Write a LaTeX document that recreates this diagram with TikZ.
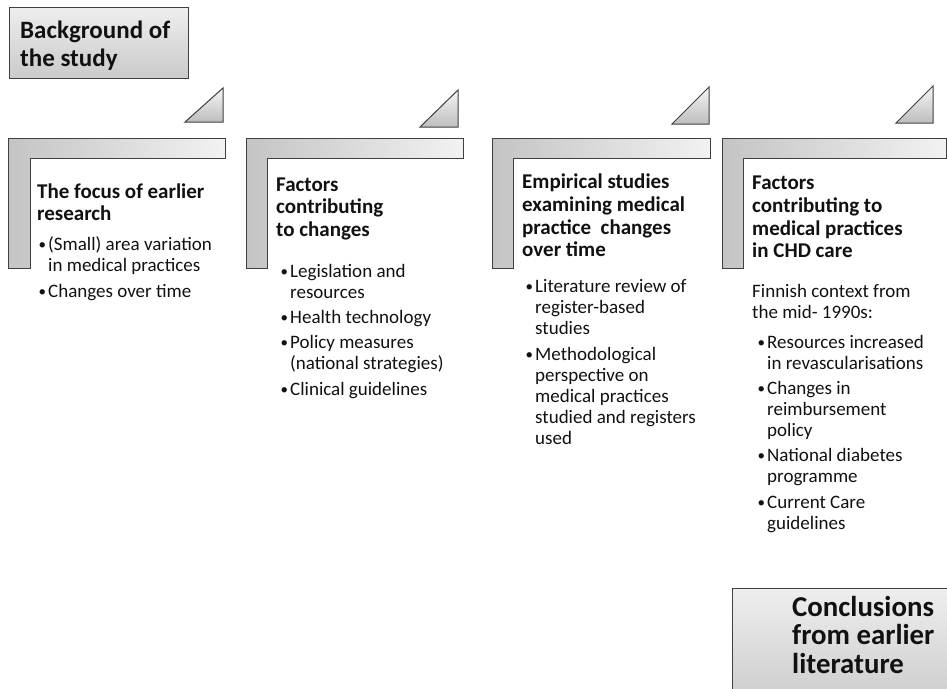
\documentclass[tikz,border=0pt]{standalone}
\usepackage{fontspec}
\setmainfont{Carlito}
\definecolor{edge}{HTML}{404040}
\definecolor{Ldark}{HTML}{C4C4C4}
\definecolor{Llight}{HTML}{F2F2F2}
\definecolor{boxtop}{HTML}{EEEEEE}
\definecolor{boxbot}{HTML}{CACACA}
\definecolor{tritop}{HTML}{F6F6F6}
\definecolor{tribot}{HTML}{BDBDBD}
\definecolor{ink}{HTML}{111111}
\newcommand\bul{\makebox[10pt][l]{\hspace{0.5pt}\raisebox{1pt}{\fontsize{15}{15}\selectfont\textbullet}}}
\newcommand\ind{\hspace*{10pt}}
\begin{document}
\begin{tikzpicture}[x=1pt, y=-1pt,
  lbar/.style={draw=edge, line width=1pt, left color=Ldark, right color=Llight},
  tri/.style={draw=edge, line width=1pt, top color=tritop, bottom color=tribot},
  gbox/.style={draw=edge, line width=1pt, top color=boxtop, bottom color=boxbot},
  title/.style={anchor=north west, inner sep=0pt, align=left, text=ink,
    font=\bfseries\fontsize{21}{22.7}\selectfont},
  body/.style={anchor=north west, inner sep=0pt, align=left, text=ink,
    font=\fontsize{19}{21}\selectfont},
  big/.style={anchor=north west, inner sep=0pt, align=left, text=ink,
    font=\bfseries\fontsize{25}{27.7}\selectfont},
  bigger/.style={anchor=north west, inner sep=0pt, align=left, text=ink,
    font=\bfseries\fontsize{28.8}{28.7}\selectfont}]
\useasboundingbox (0,0) rectangle (947,688);
\clip (0,0) rectangle (947,688);

% top box
\shade[gbox] (9.5,7.5) rectangle (188,78.5);
\node[big] (bg) at (20,38.3-20) {\rule{0pt}{20pt}Background of\\the study};

% triangles
\shade[tri] (185,122) -- (223,88) -- (223,122) -- cycle;
\shade[tri] (420,127) -- (458,90) -- (458,127) -- cycle;
\shade[tri] (672,124) -- (709,87) -- (709,124) -- cycle;
\shade[tri] (896,123) -- (933,86) -- (933,123) -- cycle;

% L shapes
\shade[lbar] (8,138.5) -- (225,138.5) -- (225,158.5) -- (30,158.5) -- (30,268) -- (8,268) -- cycle;
\shade[lbar] (246,138.5) -- (463,138.5) -- (463,158.5) -- (267,158.5) -- (267,268) -- (246,268) -- cycle;
\shade[lbar] (492,138.5) -- (710,138.5) -- (710,158.5) -- (513,158.5) -- (513,268) -- (492,268) -- cycle;
\shade[lbar] (722,138.5) -- (946,138.5) -- (946,158.5) -- (743,158.5) -- (743,268) -- (722,268) -- cycle;

% column 1
\node[title] (t1) at (37,198-17) {\rule{0pt}{17pt}The focus of earlier\\research};
\node[body] (b1) at (38,250.5-16) {\rule{0pt}{16pt}\bul(Small) area variation\\
  \ind in medical practices\\[5pt]
  \bul Changes over time};

% column 2
\node[title] (t2) at (276,191-17) {\rule{0pt}{17pt}Factors\\contributing\\to changes};
\node[body] (b2) at (280,277.5-16) {\rule{0pt}{16pt}\bul Legislation and\\
  \ind resources\\[3.5pt]
  \bul Health technology\\[4.5pt]
  \bul Policy measures\\
  \ind (national strategies)\\[4.5pt]
  \bul Clinical guidelines};

% column 3
\node[title] (t3) at (522,188.5-17) {\rule{0pt}{17pt}Empirical studies\\examining medical\\practice\ \ changes\\over time};
\node[body] (b3) at (525,292.5-16) {\rule{0pt}{16pt}\bul Literature review of\\
  \ind register-based\\
  \ind studies\\[5pt]
  \bul Methodological\\
  \ind perspective on\\
  \ind medical practices\\
  \ind studied and registers\\
  \ind used};

% column 4
\node[title] (t4) at (752,189.5-17) {\rule{0pt}{17pt}Factors\\contributing to\\medical practices\\in CHD care};
\node[body] (c4) at (752,297.5-16) {\rule{0pt}{16pt}Finnish context from\\the mid- 1990s:};
\node[body] (b4) at (757,348.5-16) {\rule{0pt}{16pt}\bul Resources increased\\
  \ind in revascularisations\\[3.5pt]
  \bul Changes in\\
  \ind reimbursement\\
  \ind policy\\[4.5pt]
  \bul National diabetes\\
  \ind programme\\[4.5pt]
  \bul Current Care\\
  \ind guidelines};

% bottom box
\shade[gbox] (732,588.5) rectangle (965,710);
\node[bigger] (cl) at (792,616-22) {\rule{0pt}{22pt}Conclusions\\from earlier\\literature};
\end{tikzpicture}
\end{document}
